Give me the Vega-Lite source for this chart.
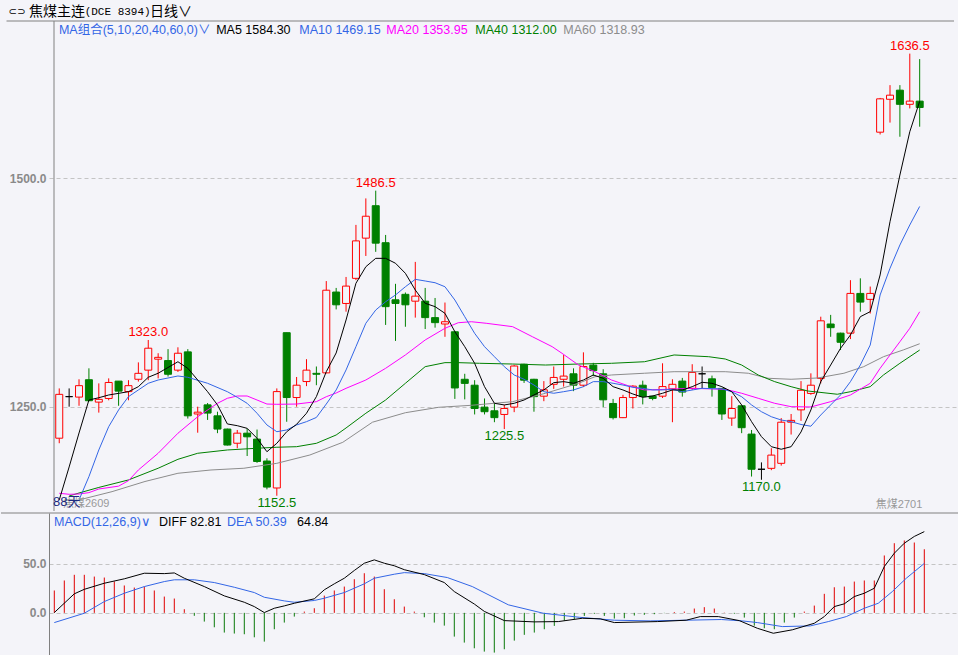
{
  "$schema": "https://vega.github.io/schema/vega-lite/v6.json",
  "background": "#f4f4f9",
  "padding": 0,
  "spacing": 0,
  "resolve": {"scale": {"color": "independent"}},
  "config": {
    "view": {"stroke": null},
    "font": "Liberation Sans",
    "axis": {"labelFont": "Liberation Sans", "labelFontSize": 12, "labelFontWeight": "bold", "labelColor": "#8a8a8a", "domainColor": "#808080", "gridColor": "#c4c4c4", "gridDash": [4, 3]}
  },
  "datasets": {
    "candles": [
      {"i":1,"open":1215.5,"high":1270,"low":1210,"close":1263.5},
      {"i":2,"open":1261,"high":1270,"low":1250,"close":1261},
      {"i":3,"open":1260.5,"high":1280,"low":1251,"close":1273},
      {"i":4,"open":1279.5,"high":1292,"low":1256,"close":1256.5},
      {"i":5,"open":1255,"high":1275.5,"low":1243.5,"close":1258},
      {"i":6,"open":1259,"high":1281,"low":1257,"close":1276.5},
      {"i":7,"open":1278,"high":1278,"low":1251,"close":1267},
      {"i":8,"open":1266.5,"high":1279,"low":1257,"close":1273},
      {"i":9,"open":1280,"high":1298.5,"low":1277.5,"close":1286.5},
      {"i":10,"open":1290,"high":1323,"low":1279,"close":1314},
      {"i":11,"open":1302,"high":1308.5,"low":1281,"close":1304},
      {"i":12,"open":1300.5,"high":1313,"low":1283,"close":1285.5},
      {"i":13,"open":1290,"high":1315,"low":1288,"close":1308.5},
      {"i":14,"open":1310,"high":1313,"low":1237,"close":1240},
      {"i":15,"open":1242,"high":1250,"low":1221.5,"close":1244},
      {"i":16,"open":1252,"high":1254,"low":1235.5,"close":1243},
      {"i":17,"open":1240,"high":1244.5,"low":1221,"close":1225.5},
      {"i":18,"open":1225.5,"high":1226,"low":1207.5,"close":1208},
      {"i":19,"open":1210,"high":1224.5,"low":1204.5,"close":1221},
      {"i":20,"open":1221,"high":1226,"low":1196,"close":1217},
      {"i":21,"open":1214.5,"high":1225,"low":1188.5,"close":1190},
      {"i":22,"open":1190.5,"high":1193.5,"low":1159.5,"close":1162},
      {"i":23,"open":1161,"high":1270,"low":1152.5,"close":1266.5},
      {"i":24,"open":1331,"high":1331,"low":1233.5,"close":1260},
      {"i":25,"open":1260,"high":1282.5,"low":1250,"close":1273.5},
      {"i":26,"open":1277.5,"high":1302,"low":1272.5,"close":1290},
      {"i":27,"open":1286.5,"high":1294,"low":1273.5,"close":1285.5},
      {"i":28,"open":1287,"high":1387.5,"low":1286.5,"close":1377.5},
      {"i":29,"open":1375.5,"high":1380,"low":1356.5,"close":1361.5},
      {"i":30,"open":1363,"high":1392,"low":1354,"close":1382},
      {"i":31,"open":1390.5,"high":1449,"low":1388.5,"close":1431.5},
      {"i":32,"open":1434.5,"high":1478,"low":1415,"close":1458.5},
      {"i":33,"open":1470,"high":1486.5,"low":1419.5,"close":1429},
      {"i":34,"open":1429.5,"high":1438,"low":1339.5,"close":1359.5},
      {"i":35,"open":1367,"high":1384.5,"low":1322,"close":1363},
      {"i":36,"open":1373,"high":1375,"low":1337.5,"close":1361.5},
      {"i":37,"open":1365.5,"high":1408.5,"low":1347.5,"close":1371},
      {"i":38,"open":1365.5,"high":1380,"low":1335,"close":1347.5},
      {"i":39,"open":1347.5,"high":1369,"low":1336.5,"close":1342},
      {"i":40,"open":1340.5,"high":1364,"low":1326.5,"close":1343},
      {"i":41,"open":1332,"high":1333,"low":1258.5,"close":1270.5},
      {"i":42,"open":1280,"high":1286,"low":1258,"close":1275.5},
      {"i":43,"open":1273.5,"high":1279,"low":1241.5,"close":1248},
      {"i":44,"open":1249.5,"high":1259,"low":1241.5,"close":1244.5},
      {"i":45,"open":1245.5,"high":1253.5,"low":1233,"close":1238},
      {"i":46,"open":1241.5,"high":1252,"low":1225.5,"close":1248},
      {"i":47,"open":1249.5,"high":1295.5,"low":1244,"close":1294.5},
      {"i":48,"open":1296.5,"high":1297,"low":1276,"close":1279},
      {"i":49,"open":1280,"high":1280.5,"low":1244.5,"close":1261},
      {"i":50,"open":1261.5,"high":1278,"low":1256,"close":1268.5},
      {"i":51,"open":1274.5,"high":1294,"low":1269.5,"close":1282},
      {"i":52,"open":1280,"high":1306.5,"low":1272,"close":1283.5},
      {"i":53,"open":1286,"high":1292,"low":1267,"close":1273.5},
      {"i":54,"open":1273.5,"high":1309.5,"low":1271.5,"close":1294},
      {"i":55,"open":1295.5,"high":1298,"low":1283.5,"close":1289.5},
      {"i":56,"open":1286,"high":1291,"low":1249.5,"close":1257.5},
      {"i":57,"open":1253.5,"high":1258.5,"low":1236,"close":1238},
      {"i":58,"open":1238,"high":1263,"low":1237.5,"close":1260},
      {"i":59,"open":1260,"high":1273.5,"low":1248,"close":1272.5},
      {"i":60,"open":1273.5,"high":1278.5,"low":1252.5,"close":1261},
      {"i":61,"open":1261.5,"high":1262,"low":1257,"close":1259},
      {"i":62,"open":1261.5,"high":1297.5,"low":1259.5,"close":1272},
      {"i":63,"open":1269.5,"high":1280,"low":1233,"close":1274.5},
      {"i":64,"open":1278,"high":1281.5,"low":1261,"close":1266},
      {"i":65,"open":1270,"high":1296.5,"low":1268.5,"close":1287.5},
      {"i":66,"open":1286,"high":1294,"low":1270,"close":1286},
      {"i":67,"open":1280.5,"high":1284,"low":1261,"close":1271},
      {"i":68,"open":1270,"high":1270.5,"low":1235.5,"close":1242},
      {"i":69,"open":1237.5,"high":1261.5,"low":1229,"close":1248},
      {"i":70,"open":1251,"high":1251,"low":1221,"close":1227},
      {"i":71,"open":1220,"high":1224.5,"low":1173.5,"close":1181.5},
      {"i":72,"open":1181.5,"high":1189,"low":1170,"close":1181.5},
      {"i":73,"open":1182.5,"high":1204.5,"low":1180.5,"close":1197},
      {"i":74,"open":1188,"high":1237.5,"low":1185.5,"close":1233},
      {"i":75,"open":1233,"high":1242,"low":1219.5,"close":1235},
      {"i":76,"open":1246.5,"high":1278,"low":1234.5,"close":1268},
      {"i":77,"open":1264.5,"high":1286.5,"low":1263,"close":1273.5},
      {"i":78,"open":1281,"high":1348.5,"low":1275.5,"close":1344},
      {"i":79,"open":1340.5,"high":1350.5,"low":1326.5,"close":1336.5},
      {"i":80,"open":1330.5,"high":1331,"low":1312,"close":1320.5},
      {"i":81,"open":1330.5,"high":1388.5,"low":1324,"close":1374},
      {"i":82,"open":1374,"high":1390.5,"low":1354,"close":1364.5},
      {"i":83,"open":1367.5,"high":1381.5,"low":1352,"close":1374},
      {"i":84,"open":1550.5,"high":1588,"low":1548,"close":1587},
      {"i":85,"open":1586.5,"high":1602,"low":1561,"close":1591},
      {"i":86,"open":1596.5,"high":1602,"low":1545.5,"close":1581},
      {"i":87,"open":1581,"high":1636.5,"low":1576.5,"close":1584.5},
      {"i":88,"open":1584.5,"high":1630.5,"low":1556.5,"close":1577.5}
    ],
    "ma": [
      {"s":"MA60","i":3,"v":1147.9},{"s":"MA60","i":6.34,"v":1157},{"s":"MA60","i":9.67,"v":1168.1},{"s":"MA60","i":13,"v":1177.1},{"s":"MA60","i":16.34,"v":1180.7},{"s":"MA60","i":19.67,"v":1182.6},{"s":"MA60","i":23,"v":1188},{"s":"MA60","i":26.34,"v":1197.1},{"s":"MA60","i":29.67,"v":1211},{"s":"MA60","i":32.67,"v":1233},{"s":"MA60","i":36,"v":1243.4},{"s":"MA60","i":39.34,"v":1249.3},{"s":"MA60","i":42.67,"v":1251.5},{"s":"MA60","i":46.84,"v":1255.5},{"s":"MA60","i":50.17,"v":1264.7},{"s":"MA60","i":53.5,"v":1275.6},{"s":"MA60","i":55.17,"v":1282.8},{"s":"MA60","i":56.84,"v":1284.7},{"s":"MA60","i":60.17,"v":1286.6},{"s":"MA60","i":63.17,"v":1288.3},{"s":"MA60","i":68.34,"v":1288.3},{"s":"MA60","i":70.67,"v":1286.6},{"s":"MA60","i":72.67,"v":1281.1},{"s":"MA60","i":75,"v":1280},{"s":"MA60","i":77.67,"v":1281.4},{"s":"MA60","i":80.34,"v":1286.6},{"s":"MA60","i":82.34,"v":1293.8},{"s":"MA60","i":84.34,"v":1304.7},{"s":"MA60","i":86.34,"v":1312.1},{"s":"MA60","i":88,"v":1318.9},
      {"s":"MA40","i":2,"v":1152.2},{"s":"MA40","i":3,"v":1155.5},{"s":"MA40","i":5,"v":1161.6},{"s":"MA40","i":8,"v":1169.8},{"s":"MA40","i":11,"v":1182.6},{"s":"MA40","i":13,"v":1192.4},{"s":"MA40","i":15,"v":1199},{"s":"MA40","i":18,"v":1202.6},{"s":"MA40","i":21,"v":1204.5},{"s":"MA40","i":23,"v":1205.6},{"s":"MA40","i":25,"v":1206.2},{"s":"MA40","i":27,"v":1209.9},{"s":"MA40","i":29,"v":1219},{"s":"MA40","i":30,"v":1226.7},{"s":"MA40","i":32,"v":1242.8},{"s":"MA40","i":34,"v":1257.3},{"s":"MA40","i":36,"v":1275.6},{"s":"MA40","i":38,"v":1293.8},{"s":"MA40","i":40,"v":1298.2},{"s":"MA40","i":41.34,"v":1298.2},{"s":"MA40","i":43.5,"v":1297.5},{"s":"MA40","i":46.84,"v":1296.7},{"s":"MA40","i":50.17,"v":1295.6},{"s":"MA40","i":53.5,"v":1296.7},{"s":"MA40","i":56.84,"v":1297.5},{"s":"MA40","i":60.17,"v":1299.2},{"s":"MA40","i":63.17,"v":1306.6},{"s":"MA40","i":66.67,"v":1304.7},{"s":"MA40","i":68.34,"v":1302.2},{"s":"MA40","i":70,"v":1295.6},{"s":"MA40","i":71.67,"v":1284.7},{"s":"MA40","i":73.34,"v":1277.4},{"s":"MA40","i":75,"v":1271.9},{"s":"MA40","i":76.67,"v":1267.2},{"s":"MA40","i":79.67,"v":1263.6},{"s":"MA40","i":81,"v":1266.4},{"s":"MA40","i":83,"v":1271.9},{"s":"MA40","i":84.34,"v":1284.7},{"s":"MA40","i":86,"v":1297.5},{"s":"MA40","i":88,"v":1312},
      {"s":"MA20","i":1,"v":1155.2},{"s":"MA20","i":2,"v":1154.1},{"s":"MA20","i":3,"v":1154.4},{"s":"MA20","i":4,"v":1155.9},{"s":"MA20","i":5,"v":1159.9},{"s":"MA20","i":7,"v":1163},{"s":"MA20","i":8,"v":1169},{"s":"MA20","i":9,"v":1180.7},{"s":"MA20","i":11,"v":1199},{"s":"MA20","i":13,"v":1220.9},{"s":"MA20","i":15,"v":1239},{"s":"MA20","i":17,"v":1253.7},{"s":"MA20","i":18,"v":1259.2},{"s":"MA20","i":19,"v":1261.7},{"s":"MA20","i":20,"v":1261.7},{"s":"MA20","i":21,"v":1257.3},{"s":"MA20","i":22,"v":1252.9},{"s":"MA20","i":23,"v":1252.6},{"s":"MA20","i":25,"v":1252.9},{"s":"MA20","i":27,"v":1255.5},{"s":"MA20","i":28,"v":1260.9},{"s":"MA20","i":29,"v":1265},{"s":"MA20","i":30,"v":1270.1},{"s":"MA20","i":32,"v":1279.2},{"s":"MA20","i":34,"v":1292},{"s":"MA20","i":36,"v":1306.6},{"s":"MA20","i":38,"v":1323},{"s":"MA20","i":40,"v":1335.8},{"s":"MA20","i":41.34,"v":1341.9},{"s":"MA20","i":42.67,"v":1343},{"s":"MA20","i":44.17,"v":1341.3},{"s":"MA20","i":46.84,"v":1337.6},{"s":"MA20","i":48.84,"v":1326.6},{"s":"MA20","i":50.84,"v":1315.7},{"s":"MA20","i":51.84,"v":1308.4},{"s":"MA20","i":53.5,"v":1295.6},{"s":"MA20","i":55.17,"v":1288.3},{"s":"MA20","i":56.84,"v":1279.2},{"s":"MA20","i":58.5,"v":1273},{"s":"MA20","i":60.17,"v":1268.3},{"s":"MA20","i":61.84,"v":1268.8},{"s":"MA20","i":65,"v":1270.1},{"s":"MA20","i":68.34,"v":1269},{"s":"MA20","i":70,"v":1264.7},{"s":"MA20","i":71.67,"v":1259.2},{"s":"MA20","i":73.34,"v":1253.7},{"s":"MA20","i":75,"v":1250},{"s":"MA20","i":77,"v":1249.7},{"s":"MA20","i":79,"v":1255.5},{"s":"MA20","i":81,"v":1262.8},{"s":"MA20","i":83,"v":1275.6},{"s":"MA20","i":84,"v":1292},{"s":"MA20","i":85,"v":1306.6},{"s":"MA20","i":86,"v":1321.1},{"s":"MA20","i":87,"v":1335.8},{"s":"MA20","i":88,"v":1353.9},
      {"s":"MA10","i":3,"v":1147.9},{"s":"MA10","i":4,"v":1173.4},{"s":"MA10","i":5,"v":1202.6},{"s":"MA10","i":6,"v":1228.1},{"s":"MA10","i":7,"v":1246.4},{"s":"MA10","i":8,"v":1261},{"s":"MA10","i":9,"v":1268.3},{"s":"MA10","i":10,"v":1275.6},{"s":"MA10","i":11,"v":1279.2},{"s":"MA10","i":13,"v":1283.6},{"s":"MA10","i":14,"v":1282.2},{"s":"MA10","i":16,"v":1275.6},{"s":"MA10","i":18,"v":1266.4},{"s":"MA10","i":19,"v":1260.3},{"s":"MA10","i":20,"v":1253.7},{"s":"MA10","i":21,"v":1242.8},{"s":"MA10","i":22,"v":1230},{"s":"MA10","i":23,"v":1222.6},{"s":"MA10","i":24,"v":1224.5},{"s":"MA10","i":25,"v":1230},{"s":"MA10","i":26,"v":1233.6},{"s":"MA10","i":27,"v":1238.2},{"s":"MA10","i":28,"v":1252.9},{"s":"MA10","i":29,"v":1268.3},{"s":"MA10","i":30,"v":1290.2},{"s":"MA10","i":31,"v":1315.7},{"s":"MA10","i":32,"v":1341.3},{"s":"MA10","i":33,"v":1355.8},{"s":"MA10","i":34,"v":1364.9},{"s":"MA10","i":35,"v":1372.3},{"s":"MA10","i":36,"v":1381.3},{"s":"MA10","i":37,"v":1389.4},{"s":"MA10","i":38,"v":1387.6},{"s":"MA10","i":39,"v":1385.7},{"s":"MA10","i":40,"v":1381.3},{"s":"MA10","i":41,"v":1366.8},{"s":"MA10","i":42,"v":1348.5},{"s":"MA10","i":43,"v":1330.3},{"s":"MA10","i":44,"v":1315.7},{"s":"MA10","i":45,"v":1304.7},{"s":"MA10","i":46,"v":1293.8},{"s":"MA10","i":47,"v":1284.7},{"s":"MA10","i":48,"v":1280},{"s":"MA10","i":49,"v":1273.7},{"s":"MA10","i":50,"v":1266.4},{"s":"MA10","i":51,"v":1264.7},{"s":"MA10","i":52,"v":1266.4},{"s":"MA10","i":53,"v":1268.3},{"s":"MA10","i":54,"v":1271.9},{"s":"MA10","i":55,"v":1277.4},{"s":"MA10","i":56,"v":1277.4},{"s":"MA10","i":57,"v":1275.6},{"s":"MA10","i":58,"v":1273.7},{"s":"MA10","i":59,"v":1271.2},{"s":"MA10","i":60,"v":1270.1},{"s":"MA10","i":61,"v":1268.3},{"s":"MA10","i":62,"v":1268.3},{"s":"MA10","i":63,"v":1269},{"s":"MA10","i":64,"v":1266.4},{"s":"MA10","i":66,"v":1270.1},{"s":"MA10","i":68,"v":1269.4},{"s":"MA10","i":69,"v":1266.4},{"s":"MA10","i":70,"v":1260.9},{"s":"MA10","i":71,"v":1251.9},{"s":"MA10","i":72,"v":1244.5},{"s":"MA10","i":73,"v":1239},{"s":"MA10","i":74,"v":1235.4},{"s":"MA10","i":75,"v":1233.6},{"s":"MA10","i":76,"v":1230.5},{"s":"MA10","i":77,"v":1228.6},{"s":"MA10","i":78,"v":1240.9},{"s":"MA10","i":79,"v":1251.9},{"s":"MA10","i":80,"v":1262.8},{"s":"MA10","i":81,"v":1277.4},{"s":"MA10","i":82,"v":1295.6},{"s":"MA10","i":83,"v":1317.5},{"s":"MA10","i":84,"v":1372.3},{"s":"MA10","i":85,"v":1401.5},{"s":"MA10","i":86,"v":1427},{"s":"MA10","i":87,"v":1448.9},{"s":"MA10","i":88,"v":1469.2},
      {"s":"MA5","i":1,"v":1147.9},{"s":"MA5","i":2,"v":1184},{"s":"MA5","i":3,"v":1221.2},{"s":"MA5","i":4,"v":1257.3},{"s":"MA5","i":5,"v":1259.8},{"s":"MA5","i":6,"v":1262.8},{"s":"MA5","i":8,"v":1266.4},{"s":"MA5","i":9,"v":1271.9},{"s":"MA5","i":10,"v":1282.2},{"s":"MA5","i":11,"v":1286.6},{"s":"MA5","i":13,"v":1299.2},{"s":"MA5","i":14,"v":1292},{"s":"MA5","i":15,"v":1279.2},{"s":"MA5","i":16,"v":1266.4},{"s":"MA5","i":17,"v":1251.9},{"s":"MA5","i":18,"v":1231.1},{"s":"MA5","i":19,"v":1229.2},{"s":"MA5","i":20,"v":1226.3},{"s":"MA5","i":21,"v":1215.4},{"s":"MA5","i":22,"v":1200.7},{"s":"MA5","i":23,"v":1209.9},{"s":"MA5","i":24,"v":1222.6},{"s":"MA5","i":25,"v":1230.7},{"s":"MA5","i":26,"v":1242.8},{"s":"MA5","i":27,"v":1261},{"s":"MA5","i":28,"v":1288.3},{"s":"MA5","i":29,"v":1308.8},{"s":"MA5","i":30,"v":1344.9},{"s":"MA5","i":31,"v":1385.1},{"s":"MA5","i":32,"v":1403.2},{"s":"MA5","i":33,"v":1412.4},{"s":"MA5","i":34,"v":1412.4},{"s":"MA5","i":35,"v":1407},{"s":"MA5","i":36,"v":1396},{"s":"MA5","i":37,"v":1377.7},{"s":"MA5","i":38,"v":1363.2},{"s":"MA5","i":39,"v":1359.5},{"s":"MA5","i":40,"v":1352.2},{"s":"MA5","i":41,"v":1332.1},{"s":"MA5","i":42,"v":1315.7},{"s":"MA5","i":43,"v":1297.5},{"s":"MA5","i":44,"v":1271.9},{"s":"MA5","i":45,"v":1253.7},{"s":"MA5","i":46,"v":1251.9},{"s":"MA5","i":47,"v":1253.7},{"s":"MA5","i":48,"v":1257.3},{"s":"MA5","i":49,"v":1262.8},{"s":"MA5","i":50,"v":1268.3},{"s":"MA5","i":51,"v":1276.3},{"s":"MA5","i":52,"v":1277.4},{"s":"MA5","i":53,"v":1275.6},{"s":"MA5","i":54,"v":1279.2},{"s":"MA5","i":55,"v":1284.7},{"s":"MA5","i":56,"v":1281.1},{"s":"MA5","i":57,"v":1271.9},{"s":"MA5","i":58,"v":1268.3},{"s":"MA5","i":59,"v":1263.9},{"s":"MA5","i":60,"v":1260.3},{"s":"MA5","i":61,"v":1261.7},{"s":"MA5","i":62,"v":1264.7},{"s":"MA5","i":63,"v":1268.3},{"s":"MA5","i":64,"v":1268.3},{"s":"MA5","i":65,"v":1271.9},{"s":"MA5","i":66,"v":1276.7},{"s":"MA5","i":67,"v":1275.6},{"s":"MA5","i":68,"v":1271.9},{"s":"MA5","i":69,"v":1266.4},{"s":"MA5","i":70,"v":1251.9},{"s":"MA5","i":71,"v":1233.6},{"s":"MA5","i":72,"v":1217.2},{"s":"MA5","i":73,"v":1206.2},{"s":"MA5","i":74,"v":1203.4},{"s":"MA5","i":75,"v":1206.2},{"s":"MA5","i":76,"v":1222.3},{"s":"MA5","i":77,"v":1246.4},{"s":"MA5","i":78,"v":1277.4},{"s":"MA5","i":79,"v":1295.6},{"s":"MA5","i":80,"v":1313.9},{"s":"MA5","i":81,"v":1328.5},{"s":"MA5","i":82,"v":1348.5},{"s":"MA5","i":83,"v":1354},{"s":"MA5","i":84,"v":1394.2},{"s":"MA5","i":85,"v":1452.5},{"s":"MA5","i":86,"v":1503.6},{"s":"MA5","i":87,"v":1551},{"s":"MA5","i":88,"v":1584.3}
    ],
    "peaks": [
      {"k":"h","i":10,"v":1323.0},{"k":"h","i":33,"v":1486.5},{"k":"h","i":87,"v":1636.5},
      {"k":"l","i":23,"v":1152.5},{"k":"l","i":46,"v":1225.5},{"k":"l","i":72,"v":1170.0}
    ],
    "macd": [
      {"i":1,"h":22.8},{"i":2,"h":33},{"i":3,"h":38.8},{"i":4,"h":38.8},{"i":5,"h":37},{"i":6,"h":36},{"i":7,"h":32},{"i":8,"h":27.9},{"i":9,"h":25.8},{"i":10,"h":26.8},
      {"i":11,"h":22.8},{"i":12,"h":16.6},{"i":13,"h":14.6},{"i":14,"h":3.7},{"i":15,"h":-3},{"i":16,"h":-8.9},{"i":17,"h":-14.7},{"i":18,"h":-20.1},{"i":19,"h":-21.1},{"i":20,"h":-21.8},
      {"i":21,"h":-24.9},{"i":22,"h":-29.3},{"i":23,"h":-16.7},{"i":24,"h":-9.9},{"i":25,"h":-3.8},{"i":26,"h":1.3},{"i":27,"h":4.7},{"i":28,"h":17.6},{"i":29,"h":22.8},{"i":30,"h":26.8},
      {"i":31,"h":34.3},{"i":32,"h":40.4},{"i":33,"h":37},{"i":34,"h":24.1},{"i":35,"h":13.9},{"i":36,"h":6.4},{"i":37,"h":1.3},{"i":38,"h":-4.5},{"i":39,"h":-9.9},{"i":40,"h":-13},
      {"i":41,"h":-24.2},{"i":42,"h":-30.3},{"i":43,"h":-36.1},{"i":44,"h":-39.5},{"i":45,"h":-40.5},{"i":46,"h":-37.1},{"i":47,"h":-28.3},{"i":48,"h":-22.4},{"i":49,"h":-20.1},{"i":50,"h":-16.7},
      {"i":51,"h":-13.3},{"i":52,"h":-7.9},{"i":53,"h":-6.5},{"i":54,"h":-3.1},{"i":55,"h":-1},{"i":56,"h":-3.1},{"i":57,"h":-5.8},{"i":58,"h":-5.5},{"i":59,"h":-2.7},{"i":60,"h":-2},
      {"i":61,"h":-1.4},{"i":62,"h":-0.3},{"i":63,"h":0.9},{"i":64,"h":1.3},{"i":65,"h":4.4},{"i":66,"h":5.8},{"i":67,"h":4.4},{"i":68,"h":0.3},{"i":69,"h":-0.9},{"i":70,"h":-4.8},
      {"i":71,"h":-13},{"i":72,"h":-15.7},{"i":73,"h":-16.7},{"i":74,"h":-9.9},{"i":75,"h":-4.8},{"i":76,"h":1.3},{"i":77,"h":7.4},{"i":78,"h":19.4},{"i":79,"h":26.1},{"i":80,"h":26.8},
      {"i":81,"h":31.9},{"i":82,"h":33},{"i":83,"h":33},{"i":84,"h":58.5},{"i":85,"h":71},{"i":86,"h":73.8},{"i":87,"h":71.7},{"i":88,"h":64.84}
    ],
    "macdlines": [
      {"s":"DEA","i":1,"v":-9.9},{"s":"DEA","i":4,"v":-0.4},{"s":"DEA","i":6,"v":11.5},{"s":"DEA","i":8,"v":20},{"s":"DEA","i":10,"v":26.8},{"s":"DEA","i":12,"v":31.9},{"s":"DEA","i":13,"v":33.7},{"s":"DEA","i":15,"v":33.7},{"s":"DEA","i":17,"v":30.9},{"s":"DEA","i":19,"v":26.1},{"s":"DEA","i":21,"v":20.7},{"s":"DEA","i":22,"v":15.9},{"s":"DEA","i":24,"v":12.2},{"s":"DEA","i":25,"v":10.8},{"s":"DEA","i":27,"v":12.6},{"s":"DEA","i":28,"v":14.9},{"s":"DEA","i":30,"v":20.7},{"s":"DEA","i":32,"v":29.6},{"s":"DEA","i":33,"v":35.3},{"s":"DEA","i":35,"v":39.4},{"s":"DEA","i":36,"v":41},{"s":"DEA","i":38,"v":40},{"s":"DEA","i":40.3,"v":36},{"s":"DEA","i":42.8,"v":26.8},{"s":"DEA","i":46.4,"v":8.2},{"s":"DEA","i":49.9,"v":-0.4},{"s":"DEA","i":53.5,"v":-4.5},{"s":"DEA","i":57,"v":-7.5},{"s":"DEA","i":60.6,"v":-8.2},{"s":"DEA","i":64.1,"v":-7.5},{"s":"DEA","i":67.7,"v":-6.8},{"s":"DEA","i":69.8,"v":-8.2},{"s":"DEA","i":71.3,"v":-9.9},{"s":"DEA","i":73.8,"v":-14},{"s":"DEA","i":76.6,"v":-13.3},{"s":"DEA","i":78.4,"v":-8.9},{"s":"DEA","i":80.2,"v":-3.8},{"s":"DEA","i":82,"v":4.7},{"s":"DEA","i":83.4,"v":9.8},{"s":"DEA","i":84.8,"v":21.7},{"s":"DEA","i":86.2,"v":35.3},{"s":"DEA","i":88,"v":50.39},
      {"s":"DIFF","i":1,"v":0.3},{"s":"DIFF","i":3,"v":19.4},{"s":"DIFF","i":4,"v":24},{"s":"DIFF","i":6,"v":30.2},{"s":"DIFF","i":8,"v":34.7},{"s":"DIFF","i":10,"v":40.4},{"s":"DIFF","i":12,"v":40},{"s":"DIFF","i":13,"v":40.7},{"s":"DIFF","i":14,"v":35.3},{"s":"DIFF","i":16,"v":26.8},{"s":"DIFF","i":18,"v":17.3},{"s":"DIFF","i":20,"v":10.8},{"s":"DIFF","i":21,"v":6.4},{"s":"DIFF","i":22,"v":0.3},{"s":"DIFF","i":23,"v":4.7},{"s":"DIFF","i":24,"v":7.1},{"s":"DIFF","i":25,"v":9.8},{"s":"DIFF","i":27,"v":14.3},{"s":"DIFF","i":28,"v":23.5},{"s":"DIFF","i":29,"v":29.6},{"s":"DIFF","i":30,"v":35.3},{"s":"DIFF","i":31,"v":43.2},{"s":"DIFF","i":32,"v":50.6},{"s":"DIFF","i":33,"v":54},{"s":"DIFF","i":34,"v":50.6},{"s":"DIFF","i":35,"v":48},{"s":"DIFF","i":36,"v":44},{"s":"DIFF","i":38,"v":39},{"s":"DIFF","i":40,"v":30.9},{"s":"DIFF","i":41,"v":21.7},{"s":"DIFF","i":43,"v":9},{"s":"DIFF","i":44,"v":1.5},{"s":"DIFF","i":46,"v":-7.9},{"s":"DIFF","i":49,"v":-9.2},{"s":"DIFF","i":51.4,"v":-8.9},{"s":"DIFF","i":53.8,"v":-5.5},{"s":"DIFF","i":55.6,"v":-6.1},{"s":"DIFF","i":57,"v":-9.9},{"s":"DIFF","i":61.3,"v":-8.9},{"s":"DIFF","i":64.2,"v":-7.5},{"s":"DIFF","i":65.6,"v":-3.8},{"s":"DIFF","i":67.4,"v":-3.8},{"s":"DIFF","i":69.5,"v":-7.9},{"s":"DIFF","i":71.3,"v":-15.7},{"s":"DIFF","i":72.9,"v":-20.8},{"s":"DIFF","i":74.8,"v":-17.3},{"s":"DIFF","i":77,"v":-10.6},{"s":"DIFF","i":78,"v":-3.8},{"s":"DIFF","i":79,"v":6.4},{"s":"DIFF","i":80,"v":9.2},{"s":"DIFF","i":81,"v":16.6},{"s":"DIFF","i":82,"v":20},{"s":"DIFF","i":83,"v":25.1},{"s":"DIFF","i":84,"v":47.2},{"s":"DIFF","i":85,"v":60.8},{"s":"DIFF","i":86,"v":71},{"s":"DIFF","i":87,"v":77.9},{"s":"DIFF","i":88,"v":82.81}
    ]
  },
  "vconcat": [
    {
      "width": 910,
      "height": 511,
      "layer": [
        {
          "data": {"name": "candles"},
          "mark": {"type": "rule", "strokeWidth": 1},
          "encoding": {
            "x": {"field": "i", "type": "quantitative", "title": null, "scale": {"domain": [0.47, 91.47], "nice": false, "zero": false}, "axis": null},
            "y": {"field": "low", "type": "quantitative", "title": null, "scale": {"domain": [1135.8, 1695.2], "nice": false, "zero": false}, "axis": {"values": [1250, 1500], "format": ".1f", "grid": true, "domain": false, "ticks": false, "labelPadding": 3, "minExtent": 48, "maxExtent": 48}},
            "y2": {"field": "high"},
            "color": {"condition": [{"test": "datum.close > datum.open", "value": "#ff0000"}, {"test": "datum.close < datum.open", "value": "#008000"}], "value": "#000000"}
          }
        },
        {
          "data": {"name": "candles"},
          "mark": {"type": "bar", "size": 7, "strokeWidth": 1},
          "encoding": {
            "x": {"field": "i", "type": "quantitative", "title": null},
            "y": {"field": "open", "type": "quantitative", "title": null},
            "y2": {"field": "close"},
            "fill": {"condition": [{"test": "datum.close > datum.open", "value": "#f4f4f9"}, {"test": "datum.close < datum.open", "value": "#008000"}], "value": "#000000"},
            "stroke": {"condition": [{"test": "datum.close > datum.open", "value": "#ff0000"}, {"test": "datum.close < datum.open", "value": "#008000"}], "value": "#000000"}
          }
        },
        {
          "data": {"name": "ma"},
          "mark": {"type": "line", "strokeWidth": 1},
          "encoding": {
            "x": {"field": "i", "type": "quantitative", "title": null},
            "y": {"field": "v", "type": "quantitative", "title": null},
            "color": {"field": "s", "type": "nominal", "legend": null, "scale": {"domain": ["MA60", "MA40", "MA20", "MA10", "MA5"], "range": ["#8c8c8c", "#008000", "#ff00ff", "#3366e6", "#000000"]}}
          }
        },
        {
          "data": {"name": "peaks"},
          "transform": [{"filter": "datum.k == 'h'"}],
          "mark": {"type": "text", "align": "center", "baseline": "middle", "dy": -8, "color": "#ff0000", "fontSize": 13},
          "encoding": {
            "x": {"field": "i", "type": "quantitative", "title": null},
            "y": {"field": "v", "type": "quantitative", "title": null},
            "text": {"field": "v", "type": "quantitative", "format": ".1f"}
          }
        },
        {
          "data": {"name": "peaks"},
          "transform": [{"filter": "datum.k == 'l'"}],
          "mark": {"type": "text", "align": "center", "baseline": "middle", "dy": 7, "color": "#008000", "fontSize": 13},
          "encoding": {
            "x": {"field": "i", "type": "quantitative", "title": null},
            "y": {"field": "v", "type": "quantitative", "title": null},
            "text": {"field": "v", "type": "quantitative", "format": ".1f"}
          }
        },
        {
          "data": {"values": [{}]},
          "mark": {"type": "rule", "color": "#808080", "strokeWidth": 1},
          "encoding": {"x": {"datum": -4.33}, "x2": {"datum": 91.47}, "y": {"datum": 1672.2}}
        },
        {
          "data": {"values": [{}]},
          "mark": {"type": "rule", "color": "#808080", "strokeWidth": 1},
          "encoding": {"x": {"datum": 0.47}, "y": {"datum": 1135.8}, "y2": {"datum": 1672.2}}
        },
        {
          "data": {"values": [{}]},
          "mark": {"type": "text", "align": "left", "baseline": "middle", "fontSize": 10, "font": "DejaVu Sans", "color": "#000000", "text": "⊂⊃"},
          "encoding": {"x": {"datum": -4.13}, "y": {"datum": 1681.7}}
        },
        {
          "data": {"values": [{}]},
          "mark": {"type": "text", "align": "left", "baseline": "middle", "fontSize": 14, "font": "Noto Sans CJK SC", "color": "#000000", "text": "焦煤主连"},
          "encoding": {"x": {"datum": -2.06}, "y": {"datum": 1681.7}}
        },
        {
          "data": {"values": [{}]},
          "mark": {"type": "text", "align": "left", "baseline": "middle", "fontSize": 11, "font": "Liberation Mono", "color": "#000000", "text": "(DCE 8394)"},
          "encoding": {"x": {"datum": 3.57}, "y": {"datum": 1681.7}}
        },
        {
          "data": {"values": [{}]},
          "mark": {"type": "text", "align": "left", "baseline": "middle", "fontSize": 14, "font": "Noto Sans CJK SC", "color": "#000000", "text": "日线∨"},
          "encoding": {"x": {"datum": 10.17}, "y": {"datum": 1681.7}}
        },
        {
          "data": {"values": [{}]},
          "mark": {"type": "text", "align": "left", "baseline": "middle", "fontSize": 12.5, "font": "Liberation Sans, Noto Sans CJK SC", "color": "#3366e6", "text": "MA组合(5,10,20,40,60,0)∨"},
          "encoding": {"x": {"datum": 0.97}, "y": {"datum": 1662.4}}
        },
        {
          "data": {"values": [{}]},
          "mark": {"type": "text", "align": "left", "baseline": "middle", "fontSize": 12.5, "color": "#000000", "text": "MA5 1584.30"},
          "encoding": {"x": {"datum": 16.87}, "y": {"datum": 1662.4}}
        },
        {
          "data": {"values": [{}]},
          "mark": {"type": "text", "align": "left", "baseline": "middle", "fontSize": 12.5, "color": "#3366e6", "text": "MA10 1469.15"},
          "encoding": {"x": {"datum": 25.27}, "y": {"datum": 1662.4}}
        },
        {
          "data": {"values": [{}]},
          "mark": {"type": "text", "align": "left", "baseline": "middle", "fontSize": 12.5, "color": "#ff00ff", "text": "MA20 1353.95"},
          "encoding": {"x": {"datum": 34.07}, "y": {"datum": 1662.4}}
        },
        {
          "data": {"values": [{}]},
          "mark": {"type": "text", "align": "left", "baseline": "middle", "fontSize": 12.5, "color": "#008000", "text": "MA40 1312.00"},
          "encoding": {"x": {"datum": 43.07}, "y": {"datum": 1662.4}}
        },
        {
          "data": {"values": [{}]},
          "mark": {"type": "text", "align": "left", "baseline": "middle", "fontSize": 12.5, "color": "#8c8c8c", "text": "MA60 1318.93"},
          "encoding": {"x": {"datum": 51.97}, "y": {"datum": 1662.4}}
        },
        {
          "data": {"values": [{}]},
          "mark": {"type": "text", "align": "left", "baseline": "middle", "fontSize": 11, "font": "Liberation Sans, Noto Sans CJK SC", "color": "#999999", "text": "焦煤2609"},
          "encoding": {"x": {"datum": 1.37}, "y": {"datum": 1143.5}}
        },
        {
          "data": {"values": [{}]},
          "mark": {"type": "text", "align": "left", "baseline": "middle", "fontSize": 13, "font": "Liberation Sans, Noto Sans CJK SC", "color": "#1c2a80", "text": "88天"},
          "encoding": {"x": {"datum": 0.37}, "y": {"datum": 1145.7}}
        },
        {
          "data": {"values": [{}]},
          "mark": {"type": "text", "align": "left", "baseline": "middle", "fontSize": 11, "font": "Liberation Sans, Noto Sans CJK SC", "color": "#999999", "text": "焦煤2701"},
          "encoding": {"x": {"datum": 83.57}, "y": {"datum": 1142.4}}
        }
      ]
    },
    {
      "width": 910,
      "height": 144,
      "layer": [
        {
          "data": {"name": "macd"},
          "mark": {"type": "rule", "strokeWidth": 1},
          "encoding": {
            "x": {"field": "i", "type": "quantitative", "title": null, "scale": {"domain": [0.47, 91.47], "nice": false, "zero": false}, "axis": null},
            "y": {"field": "h", "type": "quantitative", "title": null, "scale": {"domain": [-45, 101.8], "nice": false, "zero": false}, "axis": {"values": [0, 50], "format": ".1f", "grid": true, "ticks": false, "labelPadding": 3, "minExtent": 48, "maxExtent": 48}},
            "y2": {"datum": 0},
            "color": {"condition": {"test": "datum.h >= 0", "value": "#e00000"}, "value": "#0a7a0a"}
          }
        },
        {
          "data": {"name": "macdlines"},
          "mark": {"type": "line", "strokeWidth": 1},
          "encoding": {
            "x": {"field": "i", "type": "quantitative", "title": null},
            "y": {"field": "v", "type": "quantitative", "title": null},
            "color": {"field": "s", "type": "nominal", "legend": null, "scale": {"domain": ["DEA", "DIFF"], "range": ["#3366e6", "#000000"]}}
          }
        },
        {
          "data": {"values": [{}]},
          "mark": {"type": "rule", "color": "#808080", "strokeWidth": 1},
          "encoding": {"x": {"datum": -4.33}, "x2": {"datum": 91.47}, "y": {"datum": 101.8}}
        },
        {
          "data": {"values": [{}]},
          "mark": {"type": "text", "align": "left", "baseline": "middle", "fontSize": 12.5, "color": "#3366e6", "text": "MACD(12,26,9)∨"},
          "encoding": {"x": {"datum": 0.97}, "y": {"datum": 92.6}}
        },
        {
          "data": {"values": [{}]},
          "mark": {"type": "text", "align": "left", "baseline": "middle", "fontSize": 12.5, "color": "#000000", "text": "DIFF 82.81"},
          "encoding": {"x": {"datum": 11.47}, "y": {"datum": 92.6}}
        },
        {
          "data": {"values": [{}]},
          "mark": {"type": "text", "align": "left", "baseline": "middle", "fontSize": 12.5, "color": "#3366e6", "text": "DEA 50.39"},
          "encoding": {"x": {"datum": 18.27}, "y": {"datum": 92.6}}
        },
        {
          "data": {"values": [{}]},
          "mark": {"type": "text", "align": "left", "baseline": "middle", "fontSize": 12.5, "color": "#000000", "text": "64.84"},
          "encoding": {"x": {"datum": 25.27}, "y": {"datum": 92.6}}
        }
      ]
    }
  ]
}
